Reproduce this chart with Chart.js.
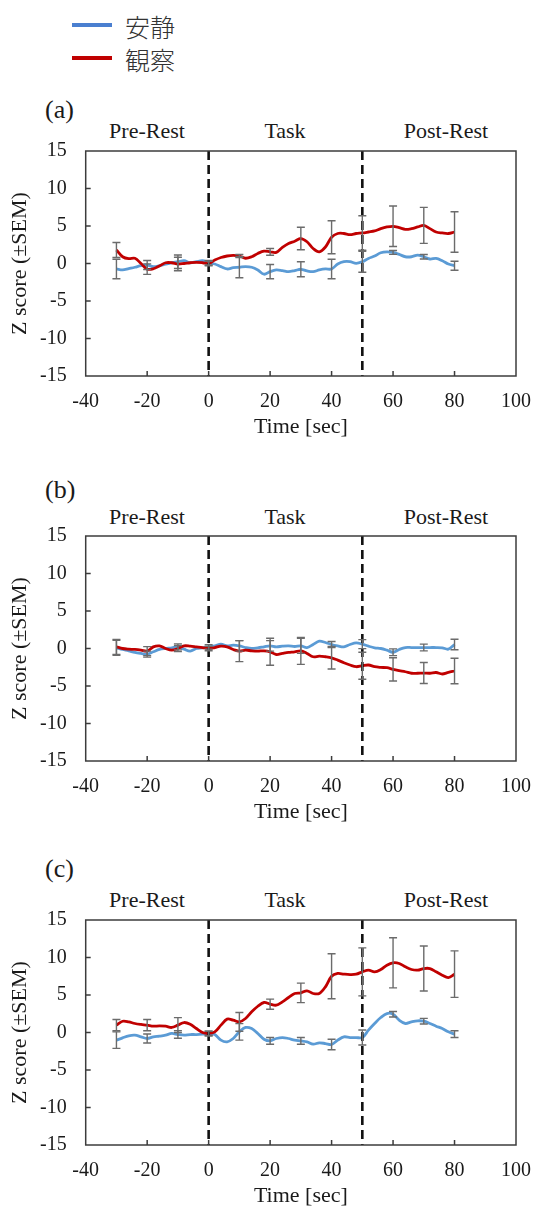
<!DOCTYPE html>
<html>
<head>
<meta charset="utf-8">
<script src="https://cdn.jsdelivr.net/npm/chart.js@4/dist/chart.umd.min.js"></script>
<style>
  html, body { margin: 0; padding: 0; background: #fff; }
  body { width: 536px; height: 1216px; position: relative; overflow: hidden;
         font-family: "Liberation Serif", "Times New Roman", serif; color: #1a1a1a; }
  .panel { position: absolute; left: 0; }
  .panel canvas { display: block; }
  .txt { position: absolute; white-space: nowrap; line-height: 1; }
  .ctr { transform: translate(-50%, -50%); }
  .mid { transform: translateY(-50%); }
  .swatch { position: absolute; width: 40px; height: 4px; }
  .cjk { font-family: "Noto Sans CJK JP", "Noto Sans CJK SC", sans-serif; font-size: 25px;
         font-weight: 300; color: #333; }
</style>
</head>
<body>
<!-- legend -->
<div class="swatch" style="left:72px;top:23px;background:#4a7fd0"></div>
<div class="txt cjk mid" style="left:125px;top:26px">安静</div>
<div class="swatch" style="left:72px;top:56px;background:#c00000"></div>
<div class="txt cjk mid" style="left:125px;top:59px">観察</div>

<div id="labels"></div>

<div class="panel" id="pA"><canvas id="cA" width="536" height="300"></canvas></div>
<div class="panel" id="pB"><canvas id="cB" width="536" height="300"></canvas></div>
<div class="panel" id="pC"><canvas id="cC" width="536" height="300"></canvas></div>

<script>
// sample times of the averaged traces (sec)
const timeSec = [-30,-28,-26,-24,-22,-20,-18,-16,-14,-12,-10,-8,-6,-4,-2,
  0,2,4,6,8,10,12,14,16,18,20,22,24,26,28,30,32,34,36,38,40,42,44,46,48,
  50,52,54,56,58,60,62,64,66,68,70,72,74,76,78,80];
// times where the SEM bars are drawn
const errTimes = [-30,-20,-10,0,10,20,30,40,50,60,70,80];

const seriesNames = ['安静', '観察'];
const panelLabels = ['(a)', '(b)', '(c)'];
const phaseNames = ['Pre-Rest', 'Task', 'Post-Rest'];
const xTicks = { min: -40, max: 100, step: 20 };
const yTicks = { min: -15, max: 15, step: 5 };
const phaseBounds = [0, 50];

// (a)
const restA = [-0.73,-0.86,-0.68,-0.5,-0.29,-0.2,-0.42,-0.29,-0.07,0.1,0.24,0.37,0.1,0.24,0.37,
  0.1,-0.07,-0.42,-0.73,-0.55,-0.5,-0.42,-0.5,-0.86,-1.43,-1.08,-0.86,-0.95,-1.08,-0.95,-0.77,-0.99,-1.08,-0.86,-0.73,-0.73,-0.07,0.24,0.24,0.02,
  0.24,0.68,0.99,1.43,1.56,1.48,1.21,0.9,0.9,1.12,0.9,0.6,0.68,0.37,-0.07,-0.29];
const obsA = [1.8,0.9,0.64,0.7,0,-0.75,-0.7,-0.33,0.1,0.1,-0.07,0,0.1,0.15,0.1,
  0,0.46,0.8,1.0,1.08,1.0,0.7,0.9,1.34,1.65,1.56,1.48,2.14,2.66,2.97,3.33,2.9,2.0,1.56,2.2,3.5,4.0,4.0,3.85,4.0,
  4.07,4.2,4.34,4.65,4.87,4.96,4.78,4.56,4.65,4.87,5.09,4.65,4.2,4.07,4.0,4.2];
const restErrA = [1.3,0.6,0.9,0.3,1.4,0.95,1.0,1.3,1.4,0.26,0.3,0.6];
const obsErrA  = [1.0,0.7,0.9,0.3,0.2,0.45,1.5,2.2,2.3,2.7,2.4,2.7];

// (b)
const restB = [0.09,-0.13,-0.31,-0.53,-0.66,-0.75,-0.44,-0.13,0,0.09,0.22,-0.09,-0.35,0,0.09,
  0.22,0.35,0.58,0.35,0.44,0.35,0.13,0,0.09,0.22,0.35,0.22,0.31,0.35,0.27,0.35,0.13,0.53,0.97,0.8,0.53,0.35,0.22,0.53,0.75,
  0.58,0.31,0.09,0,-0.22,-0.5,-0.13,0.13,0.13,0.13,0.13,0.13,0.13,0.09,-0.09,0.53];
const obsB = [0.22,0,-0.09,-0.13,-0.22,-0.35,0.22,0.35,0,-0.22,0,0.35,0.31,0.22,0.13,
  0,0.13,0.31,0.22,-0.13,-0.35,-0.22,-0.31,-0.35,-0.31,-0.44,-0.8,-0.66,-0.53,-0.44,-0.31,-0.66,-1.1,-1.02,-1.1,-1.24,-1.55,-1.9,-2.2,-2.43,
  -2.3,-2.2,-2.43,-2.52,-2.56,-2.79,-2.96,-3.1,-3.3,-3.3,-3.27,-3.3,-3.2,-3.4,-3.18,-3.0];
const restErrB = [1.0,0.4,0.4,0.3,0.7,0.7,1.0,0.4,0.6,0.45,0.45,0.7];
const obsErrB  = [1.0,0.6,0.4,0.3,1.4,1.8,1.8,1.5,1.8,1.55,1.4,1.7];

// (c)
const restC = [-1.02,-0.71,-0.44,-0.36,-0.58,-0.8,-0.58,-0.49,-0.36,-0.13,-0.27,-0.36,-0.27,-0.27,-0.22,
  -0.13,-0.27,-1.02,-1.24,-0.8,0.09,0.67,0.53,-0.13,-0.89,-1.11,-0.8,-0.67,-0.8,-1.02,-1.11,-1.24,-1.56,-1.38,-1.47,-1.6,-1.02,-0.58,-0.67,-0.67,
  -0.67,0.31,1.2,2.0,2.53,2.44,1.64,1.2,1.42,1.56,1.51,1.2,0.84,0.53,0.09,-0.22];
const obsC = [0.98,1.5,1.42,1.2,1.07,0.98,0.84,0.89,0.84,0.67,0.98,1.33,1.1,0.53,0,
  -0.13,0.09,0.98,1.78,1.64,1.42,1.87,2.76,3.5,4.0,3.78,3.64,4.09,4.67,5.2,5.29,5.56,5.2,5.2,6.09,7.5,7.87,7.78,7.73,7.78,
  8.09,8.31,8.09,8.4,8.98,9.29,9.2,8.76,8.4,8.31,8.53,8.53,8.09,7.64,7.33,7.78];
const restErrC = [1.1,0.6,0.5,0.3,1.1,0.45,0.45,0.7,1.0,0.37,0.38,0.45];
const obsErrC  = [0.75,0.75,1.0,0.3,1.25,0.67,1.3,3.0,3.2,3.34,3.0,3.1];

const REST_COLOR = '#5b9bd5';
const OBS_COLOR = '#c00000';
const SERIF = '"Liberation Serif", "Times New Roman", serif';
const INK = '#1a1a1a';

// plot boxes on the page: left/right edges and top of each panel, common height
const PLOT_LEFT = 85.7, PLOT_RIGHT = 516, PLOT_H = 225;
const plotTops = [150.7, 535.7, 920];

// panel captions and phase names above each plot
const labelSpots = [
  { cap: 110, phase: 131 },
  { cap: 490, phase: 517 },
  { cap: 869, phase: 900 }
];
const phaseX = [147, 285, 446];
const labelsEl = document.getElementById('labels');
labelSpots.forEach((s, i) => {
  const c = document.createElement('div');
  c.className = 'txt mid';
  c.style.cssText = `left:45px;top:${s.cap}px;font-size:26px;`;
  c.textContent = panelLabels[i];
  labelsEl.appendChild(c);
  phaseNames.forEach((p, j) => {
    const d = document.createElement('div');
    d.className = 'txt ctr';
    d.style.cssText = `left:${phaseX[j]}px;top:${s.phase}px;font-size:22px;`;
    d.textContent = p;
    labelsEl.appendChild(d);
  });
});

function toPoints(vals) { return timeSec.map((t, i) => ({ x: t, y: vals[i] })); }

// frame, inward ticks, phase boundaries and SEM bars
const decorations = {
  id: 'decorations',
  afterDatasetsDraw(chart, args, opts) {
    const { ctx, chartArea: a, scales: { x, y } } = chart;
    ctx.save();
    // phase boundaries
    ctx.strokeStyle = '#111';
    ctx.lineWidth = 2.6;
    ctx.setLineDash([9, 5]);
    phaseBounds.forEach(t => {
      const px = x.getPixelForValue(t);
      ctx.beginPath(); ctx.moveTo(px, a.top); ctx.lineTo(px, a.bottom); ctx.stroke();
    });
    ctx.setLineDash([]);
    // SEM bars
    ctx.strokeStyle = '#6b6b6b';
    ctx.lineWidth = 1.4;
    opts.bars.forEach(b => {
      errTimes.forEach((t, k) => {
        const i = timeSec.indexOf(t);
        const v = b.values[i], e = b.err[k];
        const px = x.getPixelForValue(t);
        const y1 = y.getPixelForValue(v + e), y2 = y.getPixelForValue(v - e);
        ctx.beginPath();
        ctx.moveTo(px, y1); ctx.lineTo(px, y2);
        ctx.moveTo(px - 4, y1); ctx.lineTo(px + 4, y1);
        ctx.moveTo(px - 4, y2); ctx.lineTo(px + 4, y2);
        ctx.stroke();
      });
    });
    // frame
    ctx.strokeStyle = '#3c3c3c';
    ctx.lineWidth = 1.5;
    ctx.strokeRect(a.left, a.top, a.right - a.left, a.bottom - a.top);
    // inward tick marks
    ctx.beginPath();
    for (let v = xTicks.min + xTicks.step; v < xTicks.max; v += xTicks.step) {
      const px = x.getPixelForValue(v);
      ctx.moveTo(px, a.bottom); ctx.lineTo(px, a.bottom - 5);
    }
    for (let v = yTicks.min + yTicks.step; v < yTicks.max; v += yTicks.step) {
      const py = y.getPixelForValue(v);
      ctx.moveTo(a.left, py); ctx.lineTo(a.left + 5, py);
    }
    ctx.stroke();
    ctx.restore();
  }
};

function makePanel(canvas, rest, obs, restErr, obsErr) {
  return new Chart(canvas, {
    type: 'line',
    data: {
      datasets: [
        { label: seriesNames[0], data: toPoints(rest), borderColor: REST_COLOR, borderWidth: 2.8,
          pointRadius: 0, tension: 0.35, order: 1 },
        { label: seriesNames[1], data: toPoints(obs), borderColor: OBS_COLOR, borderWidth: 2.8,
          pointRadius: 0, tension: 0.35, order: 0 }
      ]
    },
    options: {
      responsive: false,
      maintainAspectRatio: false,
      animation: false,
      events: [],
      layout: { padding: 0 },
      plugins: {
        legend: { display: false },
        tooltip: { enabled: false },
        decorations: { bars: [ { values: rest, err: restErr }, { values: obs, err: obsErr } ] }
      },
      scales: {
        x: {
          type: 'linear', min: xTicks.min, max: xTicks.max,
          ticks: { stepSize: xTicks.step, color: INK, font: { family: SERIF, size: 20 }, padding: 14, maxRotation: 0 },
          grid: { display: false, drawTicks: false },
          border: { display: false },
          title: { display: true, text: 'Time [sec]', color: INK, font: { family: SERIF, size: 22 }, padding: { top: 0, bottom: 0 } },
          afterFit(s) { s.height = 64; }
        },
        y: {
          type: 'linear', min: yTicks.min, max: yTicks.max,
          ticks: { stepSize: yTicks.step, color: INK, font: { family: SERIF, size: 20 }, padding: 19 },
          grid: { display: false, drawTicks: false },
          border: { display: false },
          title: { display: true, text: 'Z score (±SEM)', color: INK, font: { family: SERIF, size: 22 }, padding: { top: 7, bottom: 0 } },
          afterFit(s) { s.width = PLOT_LEFT; }
        }
      }
    },
    plugins: [decorations]
  });
}

// build a panel, then size its canvas so the plot box lands on the page box
function buildPanel(panelId, canvasId, top, rest, obs, restErr, obsErr) {
  const canvas = document.getElementById(canvasId);
  let chart = makePanel(canvas, rest, obs, restErr, obsErr);
  const a = chart.chartArea;
  const padTop = a.top, padRight = chart.width - a.right, axisH = chart.height - a.bottom;
  chart.destroy();
  canvas.width = Math.round(PLOT_RIGHT + padRight);
  canvas.height = Math.round(padTop + PLOT_H + axisH);
  canvas.style.width = canvas.width + 'px';
  canvas.style.height = canvas.height + 'px';
  document.getElementById(panelId).style.top = (top - padTop) + 'px';
  makePanel(canvas, rest, obs, restErr, obsErr);
}

buildPanel('pA', 'cA', plotTops[0], restA, obsA, restErrA, obsErrA);
buildPanel('pB', 'cB', plotTops[1], restB, obsB, restErrB, obsErrB);
buildPanel('pC', 'cC', plotTops[2], restC, obsC, restErrC, obsErrC);
</script>
</body>
</html>
